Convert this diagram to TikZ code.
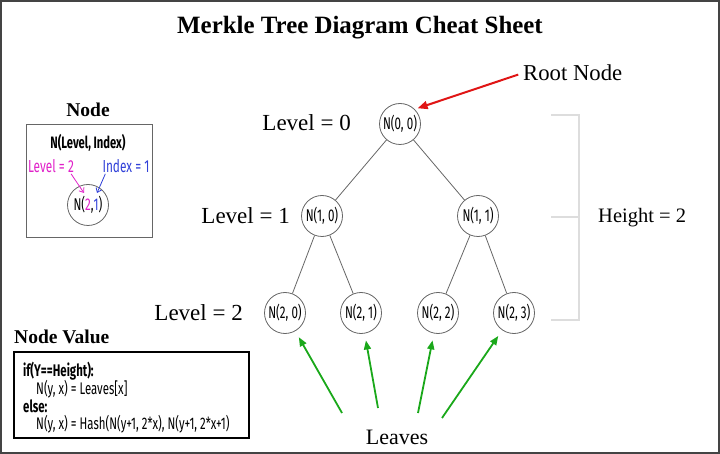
\documentclass[tikz,border=0pt]{standalone}
\usepackage{fontspec}
\setmainfont{Liberation Serif}
\newfontfamily\condfont[FakeStretch=0.68]{Fira Sans}
\usetikzlibrary{arrows.meta}
\definecolor{framegray}{HTML}{444444}
\definecolor{edgegray}{HTML}{666666}
\definecolor{bracketgray}{HTML}{DDDDDD}
\definecolor{leafgreen}{HTML}{1AA81A}
\definecolor{rootred}{HTML}{E01515}
\definecolor{lvlmagenta}{HTML}{E020C8}
\definecolor{idxblue}{HTML}{3040D8}

\begin{document}
\begin{tikzpicture}[
	x = 1pt, y = -1pt,
	hnode/.style = {circle, draw = edgegray, line width = 0.8pt, minimum size = 41pt, inner sep = 0pt,
		font = \condfont\fontsize{17}{17}\selectfont},
	lvl/.style = {font = \fontsize{23}{23}\selectfont, inner sep = 0pt},
	head/.style = {font = \bfseries\fontsize{19.5}{19.5}\selectfont, inner sep = 0pt},
	code/.style = {font = \condfont\fontsize{16.8}{16.8}\selectfont, inner sep = 0pt, anchor = west},
	codebold/.style = {code, font = \condfont\bfseries\fontsize{16.8}{16.8}\selectfont},
	leafarrow/.style = {leafgreen, line width = 1.8pt, -{Triangle[length = 9pt, width = 7pt]}, shorten > = 7pt}
]

\useasboundingbox (0, 0) rectangle (720, 454);
\draw[framegray, line width = 2pt] (1, 1) rectangle (718.5, 453);

\node[font = \bfseries\fontsize{24.9}{24.9}\selectfont, inner sep = 0pt] (title) at (360, 28) {Merkle Tree Diagram Cheat Sheet};

% node legend
\node[head] (nodehead) at (88, 110) {Node};
\draw[edgegray, line width = 0.8pt] (26, 124) rectangle (152, 237);
\node[font = \condfont\bfseries\fontsize{16.5}{16.5}\selectfont, inner sep = 0pt] (fmt) at (88, 143) {N(Level, Index)};
\node[font = \condfont\fontsize{17.4}{17.4}\selectfont, lvlmagenta, inner sep = 0pt] (lvllab) at (51, 166) {Level = 2};
\node[font = \condfont\fontsize{17.4}{17.4}\selectfont, idxblue, inner sep = 0pt] (idxlab) at (126, 166) {Index = 1};
\node[hnode] (n21x) at (88, 205) {N(\textcolor{lvlmagenta}{2},\textcolor{idxblue}{1})};
\coordinate (lvltip) at (84, 193);
\coordinate (idxtip) at (97, 193);
\draw[lvlmagenta, line width = 0.8pt, -{Straight Barb[length = 4pt, width = 6pt]}] ([xshift = -3pt, yshift = -1pt]lvllab.south east) -- (lvltip);
\draw[idxblue, line width = 0.8pt, -{Straight Barb[length = 4pt, width = 6pt]}] ([xshift = 3pt, yshift = -1pt]idxlab.south west) -- (idxtip);

% node value
\node[head, anchor = west] (valhead) at (14, 337) {Node Value};
\draw[black, line width = 1.5pt] (14, 352) rectangle (249, 438);
\node[codebold] (c1) at (23, 371) {if(Y==Height):};
\node[code] (c2) at (36, 389) {N(y, x) = Leaves[x]};
\node[codebold] (c3) at (23, 406) {else:};
\node[code] (c4) at (36, 424) {N(y, x) = Hash(N(y+1, 2*x), N(y+1, 2*x+1)};

% tree
\node[hnode] (n00) at (400, 124) {N(0, 0)};
\node[hnode] (n10) at (322, 216) {N(1, 0)};
\node[hnode] (n11) at (478, 216) {N(1, 1)};
\foreach \i/\x in {0/285, 1/361, 2/438, 3/514}
	\node[hnode] (n2\i) at (\x, 313) {N(2, \i)};

\draw[edgegray, line width = 0.8pt] (n00) -- (n10);
\draw[edgegray, line width = 0.8pt] (n00) -- (n11);
\draw[edgegray, line width = 0.8pt] (n10) -- (n20);
\draw[edgegray, line width = 0.8pt] (n10) -- (n21);
\draw[edgegray, line width = 0.8pt] (n11) -- (n22);
\draw[edgegray, line width = 0.8pt] (n11) -- (n23);

\node[lvl, anchor = east] (lv0) at (351, 123) {Level = 0};
\node[lvl, anchor = east] (lv1) at (290, 216) {Level = 1};
\node[lvl, anchor = east] (lv2) at (243, 313) {Level = 2};

\node[font = \fontsize{22.7}{22.7}\selectfont, inner sep = 0pt, anchor = west] (rootlbl) at (523, 73) {Root Node};
\draw[rootred, line width = 2pt, -{Triangle[length = 10pt, width = 8pt]}, shorten > = 3pt, shorten < = 5pt] (rootlbl.west) -- (n00.north east);

\draw[bracketgray, line width = 1.2pt] (551, 115) -| (579, 320) -- (551, 320);
\draw[bracketgray, line width = 1.2pt] (551, 217) -- (579, 217);
\node[font = \fontsize{20.5}{20.5}\selectfont, inner sep = 0pt, anchor = west] (hgt) at (598, 218) {Height = 2};

\node[font = \fontsize{22}{22}\selectfont, inner sep = 0pt] (leaves) at (397, 437) {Leaves};
\foreach \i/\x/\y in {0/342/413, 1/378/408, 2/418/413, 3/442/418} {
	\coordinate (t\i) at (\x, \y);
	\draw[leafarrow] (t\i) -- (n2\i);
}
\end{tikzpicture}
\end{document}
